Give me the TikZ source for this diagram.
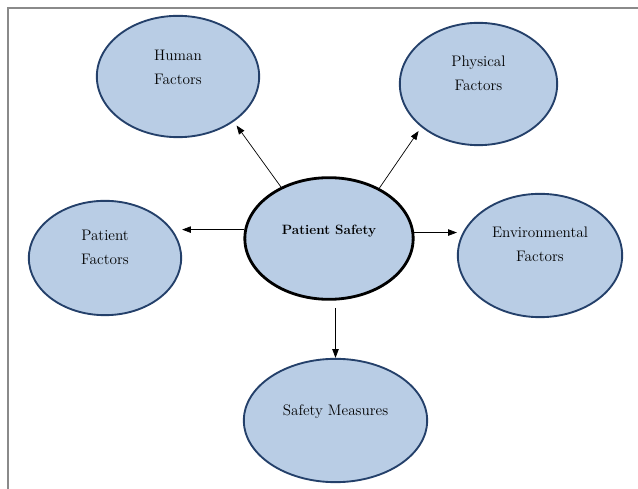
\documentclass[tikz,border=0pt]{standalone}
\usepackage{tikz}
\usetikzlibrary{shapes.geometric,arrows.meta}

\definecolor{bubblefill}{HTML}{B9CDE5}
\definecolor{bubbleline}{HTML}{24406A}
\definecolor{framegray}{HTML}{8A8A8A}
% text sits a little above the middle of each bubble
\newcommand{\bubbletext}[2][5.7pt]{\raisebox{#1}[0pt][0pt]{\begin{tabular}{@{}c@{}}#2\end{tabular}}}

\begin{document}
\begin{tikzpicture}[x=0.03cm,y=-0.03cm,
	factor/.style={ellipse,draw=bubbleline,fill=bubblefill,line width=1.6pt,inner sep=0pt,
		font=\fontsize{13}{20.5}\selectfont},
	core/.style={factor,draw=black,line width=2.4pt,font=\fontsize{11.5}{14}\selectfont\bfseries},
	link/.style={->,line width=0.6pt},
	>={Triangle[length=7.5pt,width=5.5pt]}]
	   \useasboundingbox (0,0) rectangle (638,489);
	   \draw[framegray,line width=1.8pt] (8,489) -- (8,8) -- (638,8);

	   \node[core,minimum width=5.05cm,minimum height=3.65cm] (ps) at (329,238.5) {\bubbletext[2.8pt]{Patient Safety}};
	   \node[factor,minimum width=4.87cm,minimum height=3.64cm] (hf) at (178,76.5) {\bubbletext[4.3pt]{Human\\Factors}};
	   \node[factor,minimum width=4.72cm,minimum height=3.67cm] (phf) at (478.5,84) {\bubbletext[5.5pt]{Physical\\Factors}};
	   \node[factor,minimum width=4.57cm,minimum height=3.43cm] (paf) at (105,258) {\bubbletext[6pt]{Patient\\Factors}};
	   \node[factor,minimum width=4.93cm,minimum height=3.70cm] (ef) at (540,255.5) {\bubbletext[6pt]{Environmental\\Factors}};
	   \node[factor,minimum width=5.50cm,minimum height=3.70cm] (sm) at (335.5,420.5) {\bubbletext[5.5pt]{Safety Measures}};

	    \path[link]
	    (ps.133) edge [shorten >=4pt] (hf.-39)
	    (ps.45)  edge [shorten >=4pt] (phf.217)
	    (ps.174) edge (paf.east |- ps.174)
	    (ps.4)   edge (ef.west |- ps.4)
	    (sm.north |- ps.south) edge [shorten <=6pt] (sm.north);
	\end{tikzpicture}
\end{document}
